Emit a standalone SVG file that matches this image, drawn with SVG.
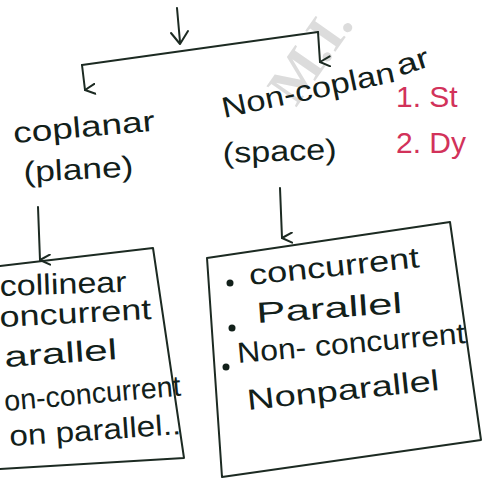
<svg xmlns="http://www.w3.org/2000/svg" width="484" height="478" viewBox="0 0 484 478">
<style>
.ln{fill:none;stroke:#1c2a22;stroke-width:2;stroke-linecap:round;stroke-linejoin:round}
.tx{font-family:"Liberation Sans","DejaVu Sans",sans-serif;font-size:29px;fill:#12201a}
.red{font-family:"Liberation Sans","DejaVu Sans",sans-serif;font-size:30px;fill:#d2325a}
.wm{font-family:"Liberation Serif","DejaVu Serif",serif;font-size:56px;font-weight:bold;fill:#d4d4d4;opacity:0.8}
</style>
<defs>
<marker id="ah" viewBox="0 0 12 12" refX="6" refY="11" markerWidth="12" markerHeight="12" markerUnits="userSpaceOnUse" orient="auto-start-reverse">
<path d="M1,1 L6,11 L11,1" class="ln"/>
</marker>
</defs>
<rect width="484" height="478" fill="#ffffff"/>
<text class="wm" transform="translate(296,108) rotate(-55)">M.I.</text>
<g id="connectors">
<path class="ln" d="M177,8 L180,42" stroke-width="3"/>
<path class="ln" d="M171,33 L180,44 L188,31" stroke-width="3.5"/>
<path class="ln" d="M82,65 L318,32"/>
<path class="ln" d="M82,65 L85,90" marker-end="url(#ah)"/>
<path class="ln" d="M318,32 L320,62" marker-end="url(#ah)"/>
<path class="ln" d="M38,207 L40,260" marker-end="url(#ah)"/>
<path class="ln" d="M280,188 L282,238" marker-end="url(#ah)"/>
</g>
<g id="coplanar">
<text class="tx" transform="translate(14,143) rotate(-5)" textLength="142" lengthAdjust="spacingAndGlyphs">coplanar</text>
<text class="tx" transform="translate(24,182) rotate(-3)" textLength="110" lengthAdjust="spacingAndGlyphs">(plane)</text>
</g>
<g id="noncoplanar">
<text class="tx" transform="translate(224,118) rotate(-12)" textLength="176" lengthAdjust="spacingAndGlyphs">Non-coplan</text>
<text class="tx" font-size="22" transform="translate(400,76) rotate(-18)" textLength="33" lengthAdjust="spacingAndGlyphs">ar</text>
<text class="tx" transform="translate(223,163) rotate(-2)" textLength="114" lengthAdjust="spacingAndGlyphs">(space)</text>
</g>
<g id="side-list">
<text class="red" x="396" y="107">1. St</text>
<text class="red" x="396" y="153" font-size="27">2. Dy</text>
</g>
<g id="left-box">
<path class="ln" d="M0,266 L153,248 L184,458 L0,469"/>
<text class="tx" transform="translate(0,296) rotate(-2)" textLength="127" lengthAdjust="spacingAndGlyphs">collinear</text>
<text class="tx" transform="translate(0,327) rotate(-3)" textLength="152" lengthAdjust="spacingAndGlyphs">oncurrent</text>
<text class="tx" transform="translate(5,367) rotate(-4)" textLength="113" lengthAdjust="spacingAndGlyphs">arallel</text>
<text class="tx" transform="translate(5,411) rotate(-5)" textLength="177" lengthAdjust="spacingAndGlyphs">on-concurrent</text>
<text class="tx" transform="translate(10,446) rotate(-4)" textLength="172" lengthAdjust="spacingAndGlyphs">on parallel..</text>
</g>
<g id="right-box">
<path class="ln" d="M207,258 L450,222 L481,440 L222,477 Z"/>
<circle cx="230" cy="283" r="3.5" fill="#12201a"/>
<circle cx="232" cy="328" r="3.5" fill="#12201a"/>
<circle cx="226" cy="367" r="3.5" fill="#12201a"/>
<text class="tx" transform="translate(250,285) rotate(-6)" textLength="171" lengthAdjust="spacingAndGlyphs">concurrent</text>
<text class="tx" transform="translate(257,323) rotate(-4)" textLength="146" lengthAdjust="spacingAndGlyphs">Parallel</text>
<text class="tx" transform="translate(238,363) rotate(-5)" textLength="229" lengthAdjust="spacingAndGlyphs">Non- concurrent</text>
<text class="tx" transform="translate(248,410) rotate(-6)" textLength="193" lengthAdjust="spacingAndGlyphs">Nonparallel</text>
</g>
</svg>
